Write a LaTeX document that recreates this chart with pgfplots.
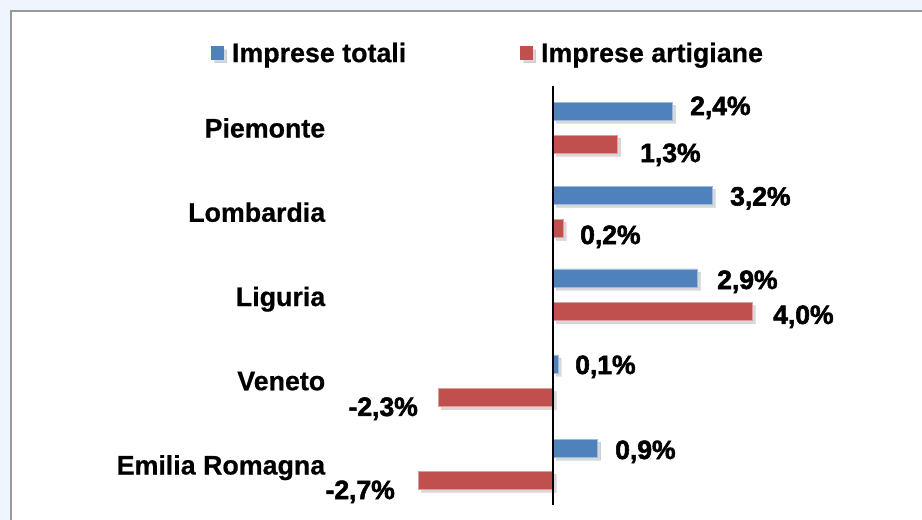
\documentclass[border=0pt]{standalone}
\usepackage{pgfplots}
\pgfplotsset{compat=1.18}
\usetikzlibrary{shadows}
\usepackage{fontspec}
\setmainfont{Liberation Sans}
\newfontfamily\lblfont[FakeBold=2]{Liberation Sans Bold}
\newfontfamily\catfont[FakeBold=0.6]{Liberation Sans Bold}
\definecolor{bgblue}{HTML}{EEF5FD}
\definecolor{barblue}{HTML}{4F81BD}
\definecolor{barred}{HTML}{C0504D}
\newcommand{\txtfont}{\fontsize{26.8bp}{31bp}\selectfont\catfont}
\newcommand{\valfont}{\fontsize{26.5bp}{31bp}\selectfont\lblfont}
\begin{document}
\begin{tikzpicture}
\useasboundingbox (0bp,0bp) rectangle (922bp,520bp);
\fill[bgblue] (0bp,0bp) rectangle (922bp,520bp);
\fill[white] (11bp,0bp) rectangle (922bp,509bp);
\draw[black!40, line width=2bp] (11bp,0bp) -- (11bp,509bp) -- (922bp,509bp);
\begin{axis}[
  at={(553bp,392bp)}, anchor=origin,
  x=49.8bp, y=84.25bp, y dir=reverse,
  xmin=-4.55, xmax=6.5, ymin=-0.5, ymax=4.475,
  axis line style={draw=none},
  xtick=\empty, ytick={0,1,2,3,4},
  yticklabels={Piemonte,Lombardia,Liguria,Veneto,Emilia Romagna},
  major tick length=0pt,
  yticklabel style={anchor=base east, inner sep=0pt, xshift=-1bp, yshift=-9.5bp, font=\txtfont},
  clip=false,
  legend columns=2,
  legend style={at={(-0.2097,1.078)}, anchor=west, draw=none, fill=none,
    inner sep=0pt, nodes={inner sep=0pt, font=\txtfont},
    /tikz/every odd column/.append style={column sep=8bp},
    /tikz/every even column/.append style={column sep=114bp}},
]
\addplot[xbar, bar shift=0pt, bar width=18bp, fill=barblue, draw=barblue!55!white, line width=0.8bp,
  drop shadow={shadow xshift=3bp, shadow yshift=-3bp, opacity=0.3},
  legend image code/.code={\fill[barblue] (0bp,-6.5bp) rectangle (12bp,6.5bp);}]
  coordinates {(2.4,-0.2) (3.2,0.8) (2.9,1.78) (0.1,2.8) (0.9,3.8)};
\addlegendentry{Imprese totali}
\addplot[xbar, bar shift=0pt, bar width=18bp, fill=barred, draw=barred!55!white, line width=0.8bp,
  drop shadow={shadow xshift=3bp, shadow yshift=-3bp, opacity=0.3},
  legend image code/.code={\fill[barred] (0bp,-6.5bp) rectangle (12bp,6.5bp);}]
  coordinates {(1.3,0.19) (0.2,1.19) (4.0,2.18) (-2.3,3.2) (-2.7,4.18)};
\addlegendentry{Imprese artigiane}
\addplot[forget plot, black, line width=2bp] coordinates {(0,-0.5) (0,4.475)};
\addplot[forget plot, draw=none, mark=none, nodes near coords, point meta=explicit symbolic,
  nodes near coords style={anchor=base west, inner sep=0pt, font=\valfont}]
  table[meta=lab] {
x y lab
2.751 -0.154 2,4\%
1.747 0.404 1,3\%
3.554 0.920 3,2\%
0.542 1.377 0,2\%
3.293 1.911 2,9\%
4.418 2.326 4,0\%
0.442 2.920 0,1\%
1.245 3.929 0,9\%
};
\addplot[forget plot, draw=none, mark=none, nodes near coords, point meta=explicit symbolic,
  nodes near coords style={anchor=base east, inner sep=0pt, font=\valfont}]
  table[meta=lab] {
x y lab
-2.711 3.418 -2,3\%
-3.173 4.404 -2,7\%
};
\end{axis}
\end{tikzpicture}
\end{document}
